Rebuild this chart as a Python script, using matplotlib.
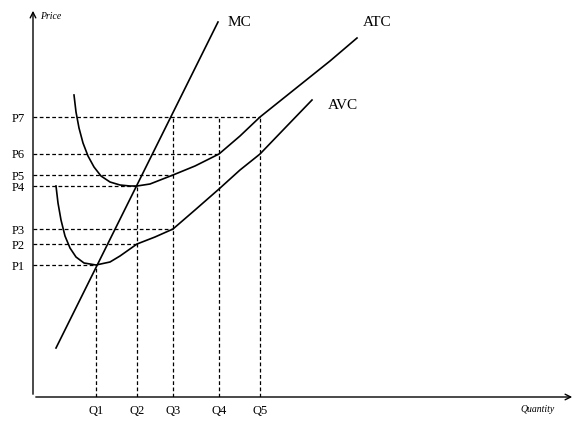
import numpy as np
import matplotlib.pyplot as plt

plt.rcParams['font.family'] = ['Liberation Serif', 'DejaVu Serif']

# quantity / price levels (in chart units)
q_labels = ["Q1", "Q2", "Q3", "Q4", "Q5"]
q_vals = [63, 104, 140, 186, 227]
p_labels = ["P1", "P2", "P3", "P4", "P5", "P6", "P7"]
p_vals = [132, 153, 168, 211, 222, 243, 280]

mc_x = [23, 185]
mc_y = [49, 375]
atc_x = [41, 43, 46, 50, 55, 61, 68, 77, 87, 97, 104, 117, 140, 162, 186, 207, 227, 247, 267, 297, 324]
atc_y = [302, 285, 269, 254, 241, 230, 221, 215, 212, 211, 211, 213, 222, 231, 243, 261, 280, 296, 312, 336, 359]
avc_x = [23, 25, 28, 32, 37, 43, 51, 63, 77, 87, 104, 122, 140, 162, 186, 207, 227, 252, 279]
avc_y = [211, 194, 177, 161, 149, 140, 134, 132, 135, 141, 153, 160, 168, 187, 208, 227, 243, 269, 297]

# dashed guides: horizontal (price, reaches to q) and vertical (q, reaches to price)
h_guides = [(132, 63), (153, 104), (168, 140), (211, 104), (222, 140), (243, 186), (280, 227)]
v_guides = [(63, 132), (104, 211), (140, 280), (186, 280), (227, 280)]

fig = plt.figure(figsize=(5.83, 4.26), dpi=100)
ax = fig.add_axes([33/583, 29/426, 542/583, 389/426])
ax.set_xlim(0, 542)
ax.set_ylim(0, 389)
for s in ax.spines.values():
    s.set_visible(False)
ax.annotate("", xy=(0, 389), xytext=(0, 0),
            arrowprops=dict(arrowstyle="->", lw=1, color="black"))
ax.annotate("", xy=(542, 0), xytext=(0, 0),
            arrowprops=dict(arrowstyle="->", lw=1, color="black"))

for p, q in h_guides:
    ax.plot([0, q], [p, p], ls=(0, (3, 2)), color="black", lw=0.9)
for q, p in v_guides:
    ax.plot([q, q], [0, p], ls=(0, (3, 2)), color="black", lw=0.9)

ax.plot(mc_x, mc_y, color="black", lw=1.2)
ax.plot(atc_x, atc_y, color="black", lw=1.2)
ax.plot(avc_x, avc_y, color="black", lw=1.2)

ax.set_xticks(q_vals, q_labels)
ax.set_yticks(p_vals, p_labels)
ax.tick_params(length=0, labelsize=9, pad=6)

ax.text(195, 375, "MC", fontsize=11, va="center")
ax.text(330, 375, "ATC", fontsize=11, va="center")
ax.text(295, 292, "AVC", fontsize=11, va="center")
ax.text(7, 381, "Price", fontsize=7, style="italic", va="center")
ax.text(487, -13, "Quantity", fontsize=7, style="italic", va="center")

fig.savefig("out.png")
